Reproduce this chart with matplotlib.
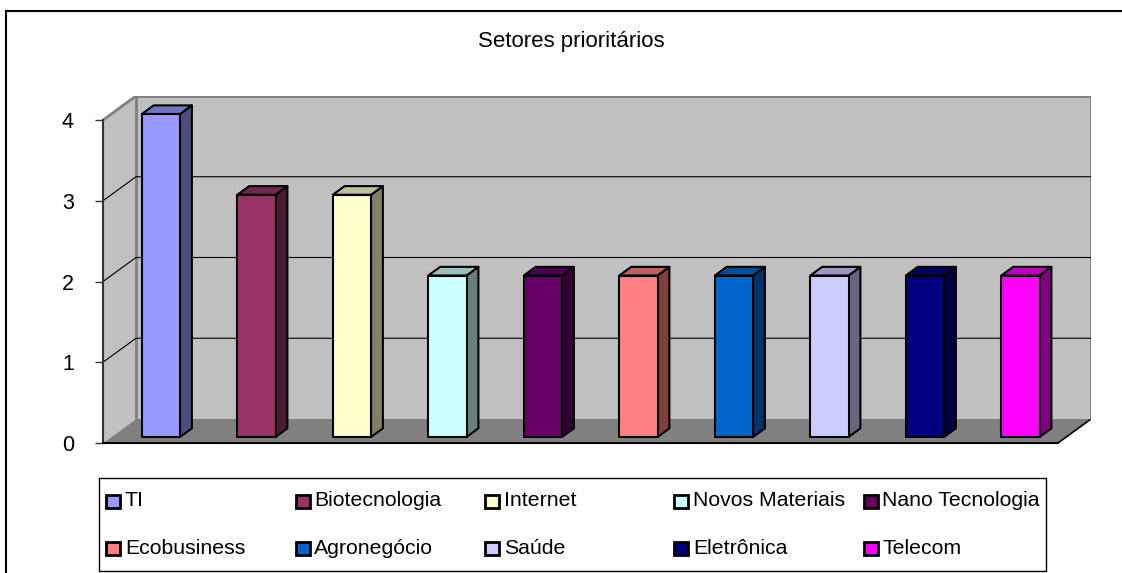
import matplotlib.pyplot as plt
from matplotlib.patches import Polygon, Rectangle
from matplotlib.colors import to_rgb

plt.rcParams['font.family'] = ['Liberation Sans', 'DejaVu Sans']

setores = ['TI', 'Biotecnologia', 'Internet', 'Novos Materiais', 'Nano Tecnologia',
           'Ecobusiness', 'Agronegócio', 'Saúde', 'Eletrônica', 'Telecom']
valores = [4, 3, 3, 2, 2, 2, 2, 2, 2, 2]
cores = ['#9999FF', '#993366', '#FFFFCC', '#CCFFFF', '#660066',
         '#FF8080', '#0066CC', '#CCCCFF', '#000080', '#FF00FF']
yticks = [0, 1, 2, 3, 4]
titulo = 'Setores prioritários'

W, H = 1122, 573
DX, DY = 0.3455, 0.2974   # oblique depth offset in data units
YMAX = 4
Z0, Z1 = 0.25, 0.61       # bar front/back as fraction of depth
BW, BOFF = 0.4, 0.32


def shade(c, f):
    r, g, b = to_rgb(c)
    return (r * f, g * f, b * f)


fig = plt.figure(figsize=(W / 100, H / 100), dpi=100)
ax = fig.add_axes([103 / W, 130 / H, 988 / W, 347 / H])
ax.set_facecolor('none')
n = len(setores)
ax.set_xlim(0, n + DX)
ax.set_ylim(0, YMAX + DY)

# floor
ax.add_patch(Polygon([(0, 0), (n, 0), (n + DX, DY), (DX, DY)],
                     closed=True, fc='#808080', ec='none', zorder=1))
ax.plot([n, n + DX], [0, DY], color='black', lw=1.2, zorder=2)
# side wall
ax.add_patch(Polygon([(0, 0), (DX, DY), (DX, YMAX + DY), (0, YMAX)],
                     closed=True, fc='#C0C0C0', ec='none', zorder=1))
# back wall
ax.add_patch(Rectangle((DX, DY), n, YMAX, fc='#C0C0C0', ec='none', zorder=1))
ax.plot([DX, DX, n + DX, n + DX], [DY, YMAX + DY, YMAX + DY, DY],
        color='#808080', lw=2, zorder=2)
ax.plot([0, DX], [YMAX, YMAX + DY], color='#808080', lw=2, zorder=2)
# gridlines on side and back walls
for t in yticks[1:-1]:
    ax.plot([0, DX, n + DX], [t, t + DY, t + DY], color='black', lw=0.8, zorder=2)

# 3d bars
for i, (v, c) in enumerate(zip(valores, cores)):
    x0 = i + BOFF
    x1 = x0 + BW
    fx0, fx1, fy0 = x0 + Z0 * DX, x1 + Z0 * DX, Z0 * DY
    bx1, by0 = x1 + Z1 * DX, Z1 * DY
    bx0 = x0 + Z1 * DX
    kw = dict(closed=True, ec='black', lw=1.5, joinstyle='round', zorder=3)
    ax.add_patch(Polygon([(fx1, fy0), (bx1, by0), (bx1, v + by0), (fx1, v + fy0)],
                         fc=shade(c, 0.5), **kw))
    ax.add_patch(Polygon([(fx0, v + fy0), (fx1, v + fy0), (bx1, v + by0), (bx0, v + by0)],
                         fc=shade(c, 0.75), **kw))
    ax.add_patch(Polygon([(fx0, fy0), (fx1, fy0), (fx1, v + fy0), (fx0, v + fy0)],
                         fc=c, **kw))

for s in ['top', 'right']:
    ax.spines[s].set_visible(False)
ax.spines['left'].set_bounds(0, YMAX)
ax.spines['left'].set_color('#333333')
ax.spines['left'].set_linewidth(1.5)
ax.spines['left'].set_zorder(4)
ax.spines['bottom'].set_bounds(0, n)
ax.spines['bottom'].set_color('black')
ax.spines['bottom'].set_linewidth(1.5)
ax.spines['bottom'].set_zorder(4)
ax.set_xticks([])
ax.set_yticks(yticks)
ax.tick_params(axis='y', direction='out', length=6, width=1, color='#333333',
               pad=15, labelsize=15.5)

# chart frame, title and legend on a full-figure overlay in pixel units
ov = fig.add_axes([0, 0, 1, 1])
ov.set_xlim(0, W)
ov.set_ylim(H, 0)
ov.axis('off')
ov.plot([6, W + 5], [11, 11], color='black', lw=1.5)
ov.plot([6, 6], [11, H + 5], color='black', lw=1.5)
ov.text(571, 42, titulo, ha='center', va='center', fontsize=16)

ov.add_patch(Rectangle((99, 478), 947, 93, fc='white', ec='black', lw=1))
ncol = 5
for k, (nome, c) in enumerate(zip(setores, cores)):
    col, row = k % ncol, k // ncol
    lx = 106.5 + 189.3 * col
    ly = 501 + 47 * row
    ov.add_patch(Rectangle((lx, ly - 6.5), 14, 13, fc=c, ec='black', lw=2))
    ov.text(lx + 18.5, ly, nome, ha='left', va='center', fontsize=15.3)

fig.savefig('out.png', dpi=100)
